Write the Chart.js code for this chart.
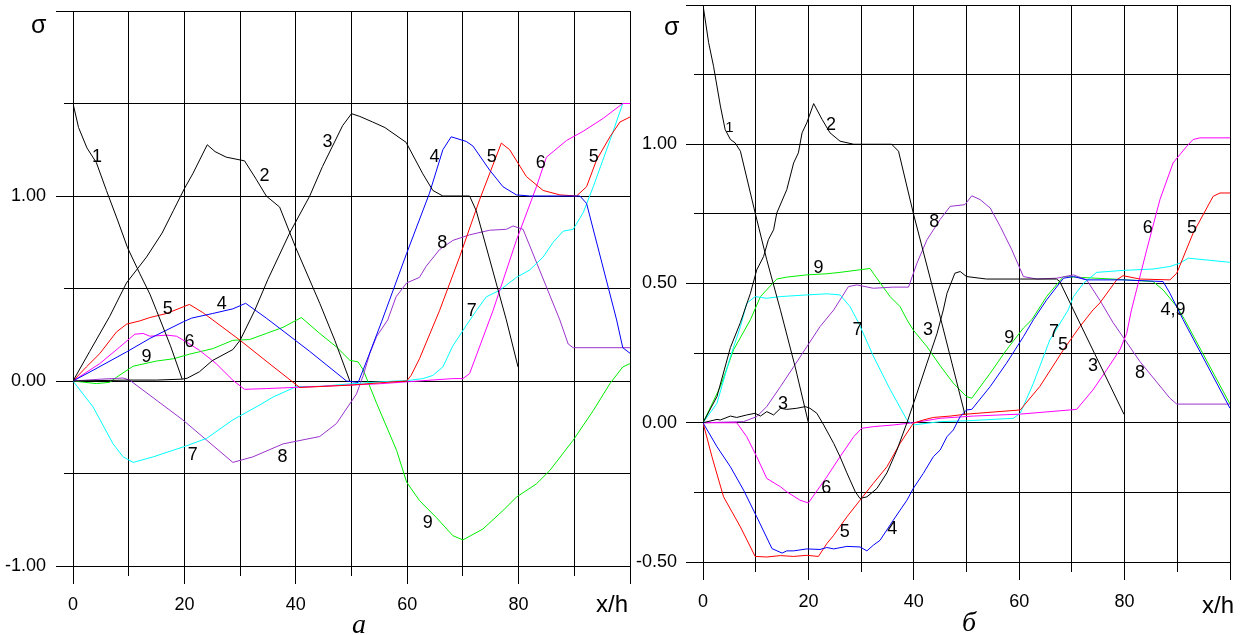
<!DOCTYPE html>
<html>
<head>
<meta charset="utf-8">
<script src="https://cdn.jsdelivr.net/npm/chart.js@4.4.1/dist/chart.umd.min.js"></script>
<style>
html, body { margin: 0; padding: 0; background: #fff; overflow: hidden; }
#wrap { position: relative; width: 1247px; height: 635px; }
canvas { position: absolute; top: 0; }
#chartA { left: 0; }
#chartB { left: 630px; }
.t { position: absolute; line-height: 1; white-space: nowrap; color: #000; font-family: "Liberation Sans", Arial, sans-serif; }
.sig { font-size: 25px; }
.xh { font-size: 24px; }
.pan { font-family: "Liberation Serif", "Times New Roman", serif; font-style: italic; font-size: 28px; }
</style>
</head>
<body>
<div id="wrap">
  <canvas id="chartA" width="640" height="635"></canvas>
  <canvas id="chartB" width="617" height="635"></canvas>
  <span class="t sig" style="left:31px;top:12px">σ</span>
  <span class="t sig" style="left:664px;top:14px">σ</span>
  <span class="t xh" style="left:596px;top:592px">x/h</span>
  <span class="t xh" style="left:1202px;top:593px">x/h</span>
  <span class="t pan" style="left:352px;top:610px">а</span>
  <span class="t pan" style="left:962px;top:608px">б</span>
</div>
<script>
// ---- panel а ----
var a1x = [0, 1.0, 2.5, 4.2, 6, 8, 9.8, 12, 13.8, 15, 17.5, 19.6];
var a1y = [1.5, 1.37, 1.26, 1.18, 1.03, 0.87, 0.72, 0.58, 0.47, 0.38, 0.19, 0.01];
var a2x = [0, 3, 6.6, 9.6, 13.2, 16, 18, 20, 21.5, 24.1, 25.5, 27.5, 30.8, 32.9, 34.7, 37.1, 40, 44.3, 47, 49.7];
var a2y = [0, 0.16, 0.35, 0.53, 0.67, 0.8, 0.92, 1.04, 1.12, 1.277, 1.24, 1.21, 1.19, 1.09, 1.0, 0.94, 0.72, 0.42, 0.22, 0.0];
var a3x = [0, 10, 15, 19.6, 20.5, 22.7, 25, 28.7, 30, 32.6, 35, 38.9, 42.5, 44.8, 48.4, 50, 51.5, 53.8, 56, 59.8, 62.8, 64.6, 66.4, 71.2, 72.4, 77.8, 79.9];
var a3y = [0, 0.005, 0.005, 0.01, 0.015, 0.05, 0.11, 0.17, 0.22, 0.38, 0.55, 0.80, 1.0, 1.16, 1.38, 1.445, 1.43, 1.40, 1.37, 1.29, 1.12, 1.03, 1.0, 1.0, 0.92, 0.33, 0.076];
var a4x = [0, 3.6, 9.6, 13.8, 19.8, 21.3, 25.1, 28.7, 31, 34.7, 37.1, 42.5, 49.1, 51.2, 53, 55.4, 59.9, 64, 66.4, 67.9, 70.6, 71.8, 74.8, 77.2, 79.6, 82, 91, 92.2, 97.6, 98.7, 100];
var a4y = [0, 0.058, 0.157, 0.23, 0.32, 0.34, 0.365, 0.39, 0.42, 0.34, 0.285, 0.16, 0.0, -0.008, 0.13, 0.32, 0.69, 1.015, 1.25, 1.32, 1.295, 1.27, 1.14, 1.05, 1.006, 1.0, 1.0, 0.96, 0.33, 0.18, 0.15];
var a5x = [0, 2.4, 4.8, 7.8, 9.6, 12, 13.8, 16.8, 20.9, 23.3, 25.1, 30, 35, 40.7, 44.3, 50, 55, 59.9, 60.7, 62.2, 65.8, 69.4, 73, 76.9, 78.4, 81.4, 84.4, 87.4, 90.4, 92.2, 94, 96.4, 98.2, 100];
var a5y = [0, 0.076, 0.148, 0.265, 0.307, 0.325, 0.343, 0.365, 0.414, 0.37, 0.33, 0.22, 0.10, -0.035, -0.03, -0.022, -0.01, 0.0, 0.03, 0.12, 0.38, 0.67, 0.98, 1.286, 1.25, 1.105, 1.03, 1.006, 1.0, 1.05, 1.195, 1.32, 1.40, 1.427];
var a6x = [0, 4.8, 8.4, 11.1, 12.6, 13.8, 16.8, 18.6, 20.4, 22.7, 25.7, 28.7, 30.8, 34.7, 44.3, 55, 68.2, 70, 71.2, 75.4, 79.6, 83.2, 85, 86.2, 88.6, 91.6, 95.2, 98.7, 100];
var a6y = [0, 0.094, 0.184, 0.253, 0.257, 0.242, 0.248, 0.242, 0.21, 0.166, 0.094, 0.004, -0.045, -0.041, -0.029, -0.015, 0.013, 0.013, 0.04, 0.38, 0.76, 1.05, 1.21, 1.24, 1.30, 1.35, 1.42, 1.50, 1.50];
var a7x = [0, 3.6, 7.2, 9, 10.8, 14.4, 20.4, 24, 28.7, 33.5, 35.9, 40.1, 44.3, 50, 55, 60.5, 62.8, 64.6, 66.4, 68.2, 70.6, 72.4, 74.2, 76.6, 79.6, 82, 84.4, 86.2, 88, 89.8, 91.6, 93.4, 96.4, 98.7, 100];
var a7y = [0, -0.14, -0.34, -0.41, -0.44, -0.41, -0.35, -0.31, -0.21, -0.13, -0.087, -0.03, -0.029, -0.015, -0.005, 0.004, 0.013, 0.03, 0.076, 0.19, 0.30, 0.38, 0.455, 0.49, 0.56, 0.60, 0.67, 0.75, 0.81, 0.82, 0.91, 1.05, 1.30, 1.5, 1.5];
var a8x = [0, 5, 9, 10.2, 19.7, 28.7, 32.3, 37.7, 44.3, 47.3, 50.9, 52.1, 53.3, 54.5, 56.5, 58, 59.9, 62.2, 63.4, 65.8, 68.2, 71.2, 74.8, 77.8, 79, 80.8, 87.4, 88.9, 89.8, 100];
var a8y = [0, 0.01, 0.016, 0.004, -0.21, -0.44, -0.41, -0.34, -0.30, -0.23, -0.07, 0.03, 0.15, 0.24, 0.33, 0.455, 0.53, 0.56, 0.62, 0.71, 0.76, 0.79, 0.815, 0.82, 0.838, 0.82, 0.33, 0.2, 0.18, 0.18];
var a9x = [0, 4.2, 6.6, 7.8, 10.8, 15, 18, 20.9, 25.1, 28.7, 31.7, 34.7, 37.7, 41, 44.3, 47.3, 49.7, 51.2, 52.1, 54.5, 58.1, 59.9, 62.2, 65.2, 68.2, 70, 73.6, 77.2, 79.6, 83.2, 85.6, 89.8, 93.4, 96.4, 98.7, 100];
var a9y = [0, -0.014, -0.007, 0.02, 0.08, 0.108, 0.12, 0.145, 0.175, 0.22, 0.224, 0.257, 0.29, 0.343, 0.257, 0.184, 0.112, 0.103, 0.06, -0.12, -0.375, -0.547, -0.646, -0.737, -0.836, -0.859, -0.80, -0.70, -0.628, -0.556, -0.484, -0.32, -0.16, -0.014, 0.076, 0.094];

var aLabelText = ['1', '2', '3', '4', '5', '6', '5', '8', '7', '5', '4', '6', '9', '7', '8', '9'];
var aLabelX = [4.3, 34.4, 45.7, 64.9, 75.2, 84, 93.5, 66.3, 71.6, 17, 26.7, 20.9, 13.2, 21.5, 37.6, 63.7];
var aLabelY = [1.21, 1.11, 1.29, 1.21, 1.21, 1.18, 1.21, 0.745, 0.38, 0.39, 0.415, 0.21, 0.128, -0.40, -0.41, -0.77];

// ---- panel б ----
var b1x = [0, 1.07, 2, 3.3, 4.2, 5.2, 6.1, 7.1, 9.9, 12.1, 14.7, 17.5, 20];
var b1y = [1.5, 1.365, 1.28, 1.137, 1.053, 1.017, 1.005, 0.975, 0.753, 0.585, 0.404, 0.2, 0.0];
var b2x = [0, 2.65, 5.2, 7.1, 9, 10.2, 11.5, 12.4, 13.4, 14, 15.9, 17.2, 18.1, 18.8, 19.7, 21, 22.6, 24.1, 26, 28.6, 35.8, 37.1, 39.9, 45, 49.7];
var b2y = [0, 0.094, 0.27, 0.36, 0.465, 0.549, 0.597, 0.657, 0.693, 0.753, 0.837, 0.933, 0.969, 1.041, 1.077, 1.146, 1.089, 1.041, 1.011, 1.0, 1.0, 0.975, 0.753, 0.381, 0.03];
var b3x = [0, 2.65, 3.3, 5.2, 6.4, 8.3, 9.9, 10.9, 12.1, 13.4, 14.7, 15.9, 17.8, 19.4, 20.3, 21.6, 22.9, 24.8, 26, 27.3, 28.9, 29.8, 31.1, 33, 34.9, 36.8, 38.7, 40.6, 42.5, 44.4, 45.6, 46.3, 47.8, 48.8, 50, 53.8, 60.2, 67.1, 67.7, 70.3, 79.9];
var b3y = [0, 0.012, 0.01, 0.024, 0.019, 0.028, 0.034, 0.024, 0.04, 0.028, 0.052, 0.048, 0.052, 0.058, 0.052, 0.034, -0.008, -0.074, -0.122, -0.18, -0.248, -0.272, -0.266, -0.236, -0.18, -0.098, 0, 0.106, 0.214, 0.32, 0.405, 0.465, 0.537, 0.543, 0.525, 0.516, 0.516, 0.516, 0.507, 0.405, 0.03];
var b4x = [0, 2.65, 5.2, 7.7, 10.2, 13.1, 15, 15.9, 17.2, 19.7, 22.2, 23.5, 24.8, 27.3, 29.8, 31.1, 32.3, 33.6, 36.1, 38.7, 39.9, 41.8, 43.7, 45, 46.3, 47.5, 48.8, 50, 51, 54.5, 57.6, 60.8, 62.7, 65.2, 68.4, 70.3, 72.8, 79.7, 87.3, 88.6, 91.1, 100];
var b4y = [0, -0.086, -0.158, -0.242, -0.338, -0.452, -0.468, -0.46, -0.46, -0.453, -0.455, -0.448, -0.453, -0.444, -0.446, -0.46, -0.44, -0.422, -0.35, -0.278, -0.236, -0.182, -0.122, -0.098, -0.05, -0.026, 0.022, 0.046, 0.048, 0.13, 0.214, 0.309, 0.37, 0.441, 0.519, 0.525, 0.513, 0.513, 0.507, 0.465, 0.37, 0.052];
var b5x = [0, 1.7, 3.9, 7.1, 9.9, 12.1, 14.7, 17.2, 19.7, 21.9, 23.5, 24.8, 27.3, 29.8, 32.3, 34.9, 37.4, 39.9, 41.8, 43.7, 46.9, 50, 60.2, 63.9, 68.4, 71.5, 74, 75.3, 78.5, 79.7, 82.9, 88.6, 89.9, 93, 96.8, 98.1, 100];
var b5y = [0, -0.122, -0.266, -0.374, -0.48, -0.482, -0.477, -0.48, -0.476, -0.48, -0.434, -0.404, -0.338, -0.278, -0.218, -0.158, -0.074, -0.002, 0.01, 0.019, 0.024, 0.031, 0.046, 0.13, 0.262, 0.345, 0.405, 0.43, 0.513, 0.528, 0.516, 0.513, 0.537, 0.681, 0.813, 0.825, 0.825];
var b6x = [0, 6.4, 8.3, 10.2, 12.1, 14.7, 15.9, 18.4, 20, 23.5, 26, 28.6, 30.1, 32.3, 36.1, 39.9, 45, 51.3, 60.2, 70.9, 74, 76.6, 79.1, 80.4, 81.3, 84.2, 86.7, 89.2, 91.8, 93, 94.3, 100];
var b6y = [0, 0, -0.05, -0.122, -0.2, -0.23, -0.248, -0.278, -0.288, -0.194, -0.122, -0.05, -0.02, -0.014, -0.008, 0, 0.016, 0.024, 0.031, 0.048, 0.118, 0.19, 0.262, 0.321, 0.405, 0.621, 0.801, 0.933, 0.993, 1.017, 1.023, 1.023];
var b7x = [0, 2.65, 5.2, 7.1, 8.3, 9.9, 12.1, 14.7, 19.7, 23.5, 26, 27.9, 29.5, 32.3, 35.5, 38.7, 39.9, 45, 50, 58.9, 60.2, 62.7, 65.8, 69.3, 70.3, 72.2, 74.7, 79.7, 85.4, 88.6, 90.5, 92.1, 100];
var b7y = [0, 0.07, 0.237, 0.345, 0.429, 0.453, 0.447, 0.453, 0.459, 0.463, 0.459, 0.417, 0.36, 0.24, 0.12, 0.01, -0.008, 0.004, 0.007, 0.016, 0.034, 0.142, 0.297, 0.405, 0.453, 0.501, 0.54, 0.547, 0.552, 0.561, 0.573, 0.591, 0.576];
var b8x = [0, 7.7, 10.2, 12.1, 14.7, 17.2, 19.7, 22.2, 24.8, 26, 27.6, 29.2, 32.3, 36.1, 39, 40.6, 42.5, 45, 46.9, 49.7, 51, 52.6, 54.5, 56.4, 58.6, 60.8, 63.3, 67.1, 70.3, 72.8, 75.3, 77.8, 82.9, 88.6, 89.9, 100];
var b8y = [0, 0.004, 0.022, 0.058, 0.13, 0.201, 0.273, 0.345, 0.405, 0.441, 0.489, 0.495, 0.483, 0.487, 0.487, 0.573, 0.657, 0.73, 0.777, 0.783, 0.815, 0.801, 0.771, 0.705, 0.621, 0.525, 0.516, 0.519, 0.531, 0.513, 0.44, 0.36, 0.22, 0.088, 0.067, 0.067];
var b9x = [0, 3.3, 5.8, 9, 10.9, 14, 15.9, 19.7, 23.5, 26, 31.7, 32.3, 35.5, 37.4, 38.7, 39.9, 42.5, 45, 47.5, 50, 51, 54.5, 57.6, 60.8, 62.4, 65.2, 68.4, 70.3, 77.8, 85.4, 87.3, 89.9, 91.4, 100];
var b9y = [0, 0.13, 0.262, 0.37, 0.453, 0.516, 0.523, 0.531, 0.535, 0.54, 0.554, 0.537, 0.453, 0.417, 0.37, 0.333, 0.273, 0.205, 0.142, 0.094, 0.088, 0.178, 0.262, 0.34, 0.37, 0.453, 0.525, 0.523, 0.516, 0.507, 0.477, 0.417, 0.37, 0.067];

var bLabelText = ['1', '2', '8', '9', '7', '3', '9', '7', '5', '3', '8', '6', '5', '4,9', '3', '6', '5', '4'];
var bLabelX = [5, 24.3, 43.9, 21.9, 29.3, 42.7, 58.1, 66.6, 68.3, 74, 82.9, 84.4, 92.8, 89.2, 15.2, 23.4, 26.9, 35.9];
var bLabelY = [1.06, 1.07, 0.72, 0.556, 0.332, 0.332, 0.305, 0.325, 0.28, 0.204, 0.18, 0.70, 0.70, 0.405, 0.067, -0.235, -0.393, -0.382];
var bLabelSize = [15];

var curveColors = ['#000000', '#000000', '#000000', '#0000ff', '#ff0000', '#ff00ff', '#00ffff', '#9933cc', '#00ee00'];

var FONT = '"Liberation Sans", Arial, sans-serif';

function align(p) {
    return Math.round(p - 0.5) + 0.5;
}

// tick marks outside the plot: long ones at labelled values, short ones between
var tickMarks = {
    id: 'tickMarks',
    afterDraw: function (chart, args, opts) {
        var ctx = chart.ctx, a = chart.chartArea, x = chart.scales.x, y = chart.scales.y;
        ctx.save();
        ctx.strokeStyle = '#000';
        ctx.lineWidth = 1;
        ctx.beginPath();
        y.ticks.forEach(function (t) {
            var py = align(y.getPixelForValue(t.value));
            var len = opts.yMajor(t.value) ? 17 : 9;
            ctx.moveTo(a.left - len, py);
            ctx.lineTo(a.left, py);
        });
        x.ticks.forEach(function (t) {
            var px = align(x.getPixelForValue(t.value));
            var len = (Math.round(t.value) % 20 === 0) ? 18 : 10;
            ctx.moveTo(px, a.bottom);
            ctx.lineTo(px, a.bottom + len);
        });
        ctx.stroke();
        ctx.restore();
    }
};

var curveLabels = {
    id: 'curveLabels',
    afterDatasetsDraw: function (chart, args, opts) {
        var ctx = chart.ctx, x = chart.scales.x, y = chart.scales.y;
        ctx.save();
        ctx.fillStyle = '#000';
        ctx.textAlign = 'center';
        ctx.textBaseline = 'middle';
        opts.text.forEach(function (s, i) {
            var size = (opts.size && opts.size[i]) || 18;
            ctx.font = size + 'px ' + FONT;
            ctx.fillText(s, x.getPixelForValue(opts.x[i]), y.getPixelForValue(opts.y[i]));
        });
        ctx.restore();
    }
};

// fixed axis box sizes, no extra room for overhanging labels
function fitX(h) {
    return function (s) {
        s.height = h;
        s.paddingLeft = 0; s.paddingRight = 0; s.paddingTop = 0; s.paddingBottom = 0;
    };
}
function fitY(w) {
    return function (s) {
        s.width = w;
        s.paddingLeft = 0; s.paddingRight = 0; s.paddingTop = 0; s.paddingBottom = 0;
    };
}

function makeChart(id, series, p) {
    var datasets = series.map(function (s, i) {
        return {
            data: s[0].map(function (v, j) { return { x: v, y: s[1][j] }; }),
            borderColor: curveColors[i],
            borderWidth: 1,
            pointRadius: 0,
            tension: 0,
            fill: false
        };
    });
    return new Chart(document.getElementById(id), {
        type: 'line',
        data: { datasets: datasets },
        plugins: [tickMarks, curveLabels],
        options: {
            responsive: false,
            animation: false,
            devicePixelRatio: 1,
            layout: { padding: { left: 0, right: p.padRight, top: p.padTop, bottom: 0 } },
            plugins: {
                legend: { display: false },
                tooltip: { enabled: false },
                tickMarks: { yMajor: p.yMajor },
                curveLabels: { text: p.labelText, x: p.labelX, y: p.labelY, size: p.labelSize }
            },
            scales: {
                x: {
                    type: 'linear',
                    min: 0,
                    max: 100,
                    afterFit: fitX(p.xHeight),
                    border: { display: false },
                    grid: { color: '#000', lineWidth: 1, drawTicks: false },
                    ticks: {
                        stepSize: 10,
                        autoSkip: false,
                        maxRotation: 0,
                        padding: p.xPad,
                        color: '#000',
                        font: { family: FONT, size: 18 },
                        callback: function (v) { return (v % 20 === 0 && v < 100) ? String(v) : ''; }
                    }
                },
                y: {
                    min: p.yMin,
                    max: p.yMax,
                    afterFit: fitY(p.yWidth),
                    border: { display: false },
                    grid: { color: '#000', lineWidth: 1, drawTicks: false },
                    ticks: {
                        stepSize: p.yStep,
                        autoSkip: false,
                        padding: p.yPad,
                        color: '#000',
                        font: { family: FONT, size: 18 },
                        callback: function (v) { return p.yLabel(v) ? v.toFixed(2) : ''; }
                    }
                }
            }
        }
    });
}

makeChart('chartA',
    [[a1x, a1y], [a2x, a2y], [a3x, a3y], [a4x, a4y], [a5x, a5y], [a6x, a6y], [a7x, a7y], [a8x, a8y], [a9x, a9y]],
    {
        yMin: -1, yMax: 2, yStep: 0.5, yWidth: 73, xHeight: 69, padRight: 10, padTop: 11,
        xPad: 28, yPad: 27,
        yMajor: function (v) { return Math.abs(v - Math.round(v)) < 1e-6; },
        yLabel: function (v) { return Math.abs(v - Math.round(v)) < 1e-6 && v < 1.9; },
        labelText: aLabelText, labelX: aLabelX, labelY: aLabelY
    });

makeChart('chartB',
    [[b1x, b1y], [b2x, b2y], [b3x, b3y], [b4x, b4y], [b5x, b5y], [b6x, b6y], [b7x, b7y], [b8x, b8y], [b9x, b9y]],
    {
        yMin: -0.5, yMax: 1.5, yStep: 0.25, yWidth: 73, xHeight: 73, padRight: 17, padTop: 5,
        xPad: 29, yPad: 26,
        yMajor: function (v) { return Math.abs(v * 2 - Math.round(v * 2)) < 1e-6; },
        yLabel: function (v) { return Math.abs(v * 2 - Math.round(v * 2)) < 1e-6 && v < 1.4; },
        labelText: bLabelText, labelX: bLabelX, labelY: bLabelY, labelSize: bLabelSize
    });
</script>
</body>
</html>
